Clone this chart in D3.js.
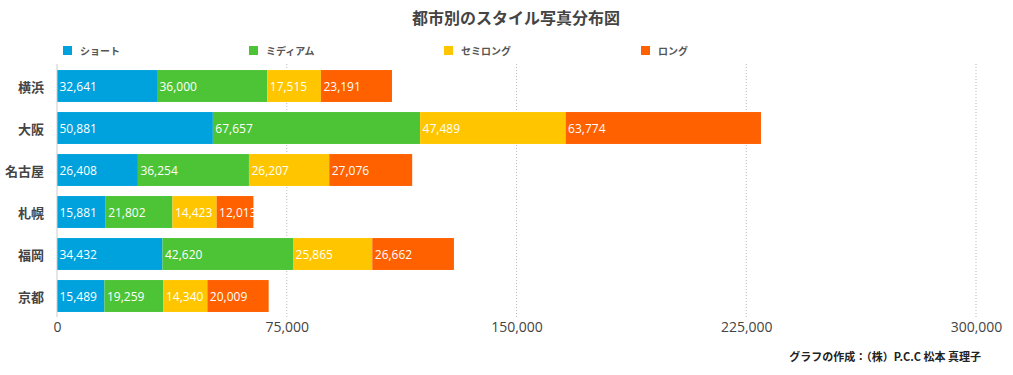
<!DOCTYPE html>
<html>
<head>
<meta charset="utf-8">
<script src="https://cdn.jsdelivr.net/npm/d3@7"></script>
<style>
  body { margin: 0; background: #fff; }
  text { font-family: "Noto Sans CJK JP", "Noto Sans", sans-serif; }
</style>
</head>
<body>
<div id="chart"></div>
<script>
// 都市別のスタイル写真分布図 — stacked horizontal bars

const cities = ['横浜', '大阪', '名古屋', '札幌', '福岡', '京都'];
const styles = ['ショート', 'ミディアム', 'セミロング', 'ロング'];
const shortVals = [32641, 50881, 26408, 15881, 34432, 15489];
const mediumVals = [36000, 67657, 36254, 21802, 42620, 19259];
const semiLongVals = [17515, 47489, 26207, 14423, 25865, 14340];
const longVals = [23191, 63774, 27076, 12013, 26662, 20009];
const xTicks = [0, 75000, 150000, 225000, 300000];
const colors = ['#00a2dd', '#4dc336', '#ffc600', '#ff6000'];

const numFont = '"Open Sans", "Liberation Sans", sans-serif';
const W = 1013, H = 375;
const svg = d3.select('#chart').append('svg')
  .attr('width', W).attr('height', H);

const seriesVals = [shortVals, mediumVals, semiLongVals, longVals];
const rows = cities.map((c, i) => {
  const r = { city: c };
  styles.forEach((s, si) => { r[s] = seriesVals[si][i]; });
  return r;
});
const series = d3.stack().keys(styles)(rows);

const x = d3.scaleLinear().domain([0, 300000]).range([57, 976]);
const y = d3.scaleBand().domain(cities).range([65, 317])
  .paddingInner(0.24).paddingOuter(0.12);

// Title
svg.append('text')
  .attr('x', 516).attr('y', 24)
  .attr('text-anchor', 'middle')
  .attr('font-size', '16px').attr('font-weight', 'bold').attr('fill', '#444')
  .text('都市別のスタイル写真分布図');

// Legend
const legendX = [63, 249, 444, 641];
styles.forEach((s, i) => {
  const lg = svg.append('g').attr('transform', `translate(${legendX[i]},46)`);
  lg.append('rect').attr('width', 9).attr('height', 9).attr('fill', colors[i]);
  lg.append('text')
    .attr('x', 17).attr('y', 8.5)
    .attr('font-size', '10px').attr('font-weight', 'bold').attr('fill', '#555')
    .text(s);
});

// Gridlines
svg.append('g')
  .selectAll('line')
  .data(xTicks.slice(1))
  .join('line')
  .attr('x1', d => x(d)).attr('x2', d => x(d))
  .attr('y1', 64).attr('y2', 317)
  .attr('stroke', '#bbb').attr('stroke-width', 1)
  .attr('stroke-dasharray', '1,2');

// Bars
series.forEach((s, si) => {
  svg.append('g').selectAll('rect')
    .data(s)
    .join('rect')
    .attr('x', d => x(d[0]))
    .attr('y', d => y(d.data.city))
    .attr('width', d => x(d[1]) - x(d[0]))
    .attr('height', y.bandwidth())
    .attr('fill', colors[si]);

  svg.append('g').selectAll('text')
    .data(s)
    .join('text')
    .attr('x', d => x(d[0]) + 2.5)
    .attr('y', d => y(d.data.city) + y.bandwidth() / 2)
    .attr('dominant-baseline', 'central')
    .style('font-family', numFont)
    .attr('font-size', '12px').attr('fill', '#fff')
    .text(d => d3.format(',')(d[1] - d[0]));
});

// Y axis line + labels
svg.append('line')
  .attr('x1', 57).attr('x2', 57).attr('y1', 64).attr('y2', 317)
  .attr('stroke', '#ccc').attr('stroke-width', 1);

svg.append('g').selectAll('text')
  .data(cities)
  .join('text')
  .attr('x', 44)
  .attr('y', d => y(d) + y.bandwidth() / 2)
  .attr('text-anchor', 'end').attr('dominant-baseline', 'central')
  .attr('font-size', '13px').attr('font-weight', 'bold').attr('fill', '#444')
  .text(d => d);

// X tick labels
const xAxis = svg.append('g')
  .attr('transform', 'translate(0,318)')
  .call(d3.axisBottom(x).tickValues(xTicks).tickFormat(d3.format(',')).tickSize(0));
xAxis.select('.domain').remove();
xAxis.selectAll('text')
  .attr('dy', '0.71em').attr('y', 4)
  .attr('font-size', '14px').attr('fill', '#444')
  .style('font-family', numFont);

// Credit
svg.append('text')
  .attr('x', 981).attr('y', 361)
  .attr('text-anchor', 'end')
  .attr('font-size', '11px').attr('font-weight', 'bold').attr('fill', '#222')
  .text('グラフの作成：（株）P.C.C 松本 真理子');
</script>
</body>
</html>
